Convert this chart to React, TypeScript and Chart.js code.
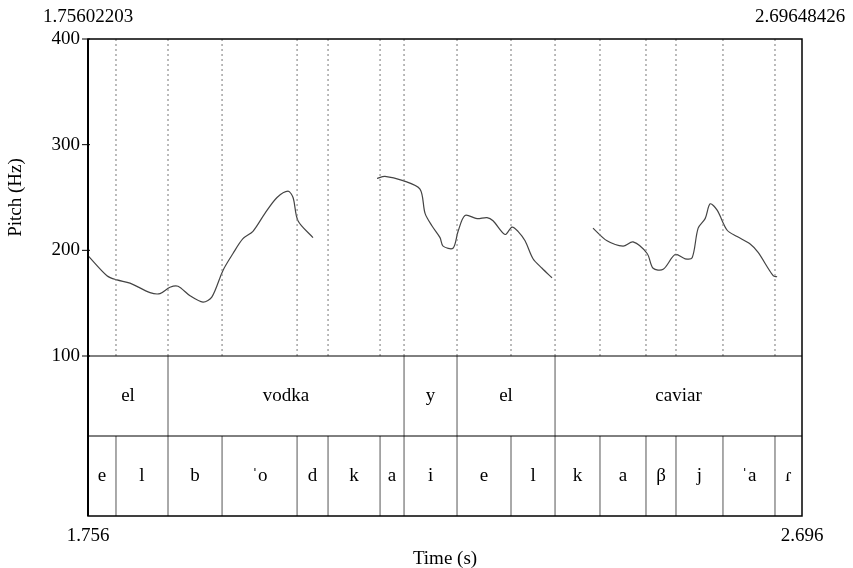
import Chart from "chart.js/auto";
import { useEffect, useRef } from "react";

// pitch contour, time (s) and Hz; null marks unvoiced gaps
const pitchTimes = [
  1.756, 1.781, 1.7942, 1.8113, 1.8377, 1.8509, 1.864, 1.8746, 1.8904, 1.9075, 1.9193,
  1.9338, 1.947, 1.9601, 1.9733, 1.9891, 2.005, 2.0195, 2.0261, 2.0326, 2.0524,
  2.1, 2.1367, 2.1472, 2.171, 2.1933, 2.2, 2.2092, 2.2197, 2.2237, 2.2368, 2.2435,
  2.2526, 2.2685, 2.2816, 2.2895, 2.3053, 2.3145, 2.3224, 2.3317, 2.3422, 2.3541, 2.3672,
  2.4, 2.4212, 2.4397, 2.4608, 2.474, 2.4925, 2.5004, 2.5136, 2.5294, 2.5426, 2.5518,
  2.5597, 2.5689, 2.5755, 2.5847, 2.5979, 2.611, 2.6282, 2.6387, 2.6585, 2.6637,
];
const pitchHz = [
  195, 176, 172, 169, 160, 159, 165, 166, 157, 151, 156,
  181, 197, 211, 218, 235, 250, 256, 250, 228, 212,
  null, 268, 270, 266, 258, 235, 223, 212, 204, 202, 218,
  233, 230, 231, 228, 215, 222, 218, 209, 192, 183, 174,
  null, 221, 209, 204, 208, 197, 183, 182, 196, 192, 193,
  221, 230, 244, 238, 219, 213, 206, 198, 176, 175,
];

const tStart = 1.75602203;
const tEnd = 2.69648426;

const wordBounds = [1.8614, 2.1723, 2.2421, 2.3712];
const wordLabels = ["el", "vodka", "y", "el", "caviar"];
const phoneBounds = [
  1.7929, 1.8614, 1.9326, 2.0314, 2.0722, 2.1407, 2.1723, 2.2421, 2.3132, 2.3712,
  2.4304, 2.491, 2.5305, 2.5924, 2.6609,
];
const phoneLabels = ["e", "l", "b", "ˈo", "d", "k", "a", "i", "e", "l", "k", "a", "β", "j", "ˈa", "ɾ"];
const yTicks = [100, 200, 300, 400];

const FONT = "'Liberation Serif', 'DejaVu Serif', serif";

export default function App() {
  const canvasRef = useRef<HTMLCanvasElement>(null);

  useEffect(() => {
    if (!canvasRef.current) return;
    const tiers = {
      id: "tiers",
      afterDraw(chart: any) {
        const { ctx, chartArea: a, scales } = chart;
        const x = (t: number) => scales.x.getPixelForValue(t);
        const y100 = scales.y.getPixelForValue(100);
        const yMid = (y100 + a.bottom) / 2;
        ctx.save();
        // dotted boundaries over the pitch area
        ctx.setLineDash([2, 3]);
        ctx.lineWidth = 1;
        ctx.strokeStyle = "#777";
        phoneBounds.forEach((b) => {
          ctx.beginPath();
          ctx.moveTo(x(b), a.top);
          ctx.lineTo(x(b), y100);
          ctx.stroke();
        });
        ctx.setLineDash([]);
        ctx.strokeStyle = "#555";
        wordBounds.forEach((b) => {
          ctx.beginPath();
          ctx.moveTo(x(b), y100);
          ctx.lineTo(x(b), yMid);
          ctx.stroke();
        });
        phoneBounds.forEach((b) => {
          ctx.beginPath();
          ctx.moveTo(x(b), yMid);
          ctx.lineTo(x(b), a.bottom);
          ctx.stroke();
        });
        ctx.strokeStyle = "#000";
        ctx.beginPath();
        ctx.moveTo(a.left, y100);
        ctx.lineTo(a.right, y100);
        ctx.moveTo(a.left, yMid);
        ctx.lineTo(a.right, yMid);
        ctx.stroke();
        ctx.lineWidth = 1.5;
        ctx.strokeRect(a.left, a.top, a.right - a.left, a.bottom - a.top);
        ctx.lineWidth = 2;
        ctx.beginPath();
        ctx.moveTo(a.left, a.top);
        ctx.lineTo(a.left, a.bottom);
        ctx.stroke();

        ctx.fillStyle = "#000";
        ctx.font = `19px ${FONT}`;
        ctx.textBaseline = "middle";
        ctx.textAlign = "center";
        const wb = [tStart, ...wordBounds, tEnd];
        wordLabels.forEach((l, i) => ctx.fillText(l, (x(wb[i]) + x(wb[i + 1])) / 2, (y100 + yMid) / 2));
        const pb = [tStart, ...phoneBounds, tEnd];
        phoneLabels.forEach((l, i) => ctx.fillText(l, (x(pb[i]) + x(pb[i + 1])) / 2, (yMid + a.bottom) / 2));

        // y ticks
        ctx.textAlign = "right";
        ctx.lineWidth = 1;
        yTicks.forEach((v) => {
          const py = scales.y.getPixelForValue(v);
          ctx.beginPath();
          ctx.moveTo(a.left - 6, py);
          ctx.lineTo(a.left + 2, py);
          ctx.stroke();
          ctx.fillText(String(v), a.left - 8, py);
        });
        ctx.textAlign = "center";
        ctx.fillText("1.75602203", a.left, 17);
        ctx.fillText("2.69648426", a.right - 2, 17);
        ctx.fillText("1.756", a.left, a.bottom + 20);
        ctx.fillText("2.696", a.right, a.bottom + 20);
        ctx.fillText("Time (s)", (a.left + a.right) / 2, a.bottom + 43);
        ctx.translate(16, (a.top + y100) / 2);
        ctx.rotate(-Math.PI / 2);
        ctx.fillText("Pitch (Hz)", 0, 0);
        ctx.restore();
      },
    };

    const chart = new Chart(canvasRef.current, {
      type: "line",
      data: {
        datasets: [
          {
            data: pitchTimes.map((t, i) => ({ x: t, y: pitchHz[i] as any })),
            borderColor: "#444",
            borderWidth: 1.2,
            pointRadius: 0,
            tension: 0.3,
            spanGaps: false,
          },
        ],
      },
      options: {
        responsive: false,
        animation: false,
        layout: { padding: { left: 88, right: 51, top: 39, bottom: 52 } },
        plugins: { legend: { display: false }, tooltip: { enabled: false } },
        scales: {
          x: { type: "linear", min: tStart, max: tEnd, display: false },
          y: { min: 100 - 160 / (317 / 300), max: 400, display: false },
        },
      },
      plugins: [tiers],
    });
    return () => chart.destroy();
  }, []);

  return (
    <div style={{ position: "absolute", left: 0, top: 0, width: 853, height: 568, background: "#fff" }}>
      <canvas ref={canvasRef} width={853} height={568} />
    </div>
  );
}
